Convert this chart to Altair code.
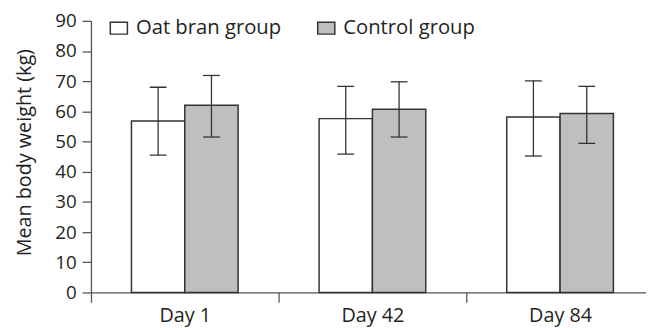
import altair as alt
import pandas as pd

days = ["Day 1", "Day 42", "Day 84"]
groups = ["Oat bran group", "Control group"]
oat_mean = [56.8, 57.6, 58.1]
oat_low = [45.5, 45.8, 45.2]
oat_high = [68.0, 68.3, 70.1]
ctrl_mean = [62.0, 60.7, 59.3]
ctrl_low = [51.5, 51.5, 49.4]
ctrl_high = [71.9, 69.8, 68.3]
y_ticks = [0, 10, 20, 30, 40, 50, 60, 70, 80, 90]

rows = []
for i, d in enumerate(days):
    rows.append({"day": d, "group": groups[0], "mean": oat_mean[i], "lo": oat_low[i], "hi": oat_high[i]})
    rows.append({"day": d, "group": groups[1], "mean": ctrl_mean[i], "lo": ctrl_low[i], "hi": ctrl_high[i]})
df = pd.DataFrame(rows)

FONT = "Open Sans"
TXT = "#231f20"
AX = "#555555"

x_axis = alt.Axis(title=None, tickBand="extent", labelAngle=0, tickSize=10,
                  labelPadding=3, labelFontSize=20, labelFont=FONT, labelColor=TXT,
                  domainColor=AX, tickColor=AX, domainWidth=1.3, tickWidth=1.3)
x_scale = alt.Scale(domain=days, paddingInner=0, paddingOuter=0)
xo_scale = alt.Scale(domain=groups, paddingInner=0, paddingOuter=0.759)
y_scale = alt.Scale(domain=[0, 90], nice=False, zero=True)
y_axis = alt.Axis(title="Mean body weight (kg)", values=y_ticks, labelOverlap=False,
                  tickCount=10,
                  tickSize=9, labelPadding=6, labelFontSize=19, labelFont=FONT,
                  labelColor=TXT, domainColor=AX, tickColor=AX, domainWidth=1.3,
                  tickWidth=1.3, grid=False, titleFont=FONT, titleFontSize=20,
                  titleFontWeight="normal", titleColor=TXT, titleAngle=270,
                  titleX=-67, titleY=133, titleAlign="center", titleBaseline="middle")


def xenc():
    return alt.X("day:N", sort=days, scale=x_scale, axis=x_axis)


def xoenc():
    return alt.XOffset("group:N", sort=groups, scale=xo_scale)


bars = alt.Chart(df).mark_bar(stroke="#333333", strokeWidth=1.5).encode(
    x=xenc(),
    xOffset=xoenc(),
    y=alt.Y("mean:Q", scale=y_scale, axis=y_axis),
    color=alt.Color("group:N", sort=groups,
                    scale=alt.Scale(domain=groups, range=["#ffffff", "#bebfc1"]),
                    legend=alt.Legend(title=None, orient="none", direction="horizontal",
                                      legendX=18, legendY=-3, padding=0,
                                      symbolType="M-1,-0.7H1V0.7H-1Z", symbolSize=300,
                                      symbolStrokeColor="#333333", symbolStrokeWidth=1.5,
                                      symbolOpacity=1, labelFont=FONT, labelFontSize=20.5,
                                      labelColor=TXT, labelOffset=7, columnPadding=33,
                                      labelLimit=300)),
)

rule = alt.Chart(df).mark_rule(color="#333333", strokeWidth=1.3).encode(
    x=xenc(), xOffset=xoenc(),
    y=alt.Y("lo:Q", scale=y_scale, axis=y_axis), y2="hi:Q")
cap_lo = alt.Chart(df).mark_tick(color="#333333", thickness=1.3, size=17, opacity=1).encode(
    x=xenc(), xOffset=xoenc(),
    y=alt.Y("lo:Q", scale=y_scale, axis=y_axis))
cap_hi = alt.Chart(df).mark_tick(color="#333333", thickness=1.3, size=17, opacity=1).encode(
    x=xenc(), xOffset=xoenc(),
    y=alt.Y("hi:Q", scale=y_scale, axis=y_axis))

chart = alt.layer(bars, rule, cap_lo, cap_hi).properties(
    width=570, height=275,
    autosize=alt.AutoSizeParams(type="none"),
    padding={"left": 84, "top": 11, "right": -8, "bottom": 34},
    background="white",
).configure_view(stroke=None)

chart.save("out.html", embed_options={"renderer": "svg", "actions": False})
